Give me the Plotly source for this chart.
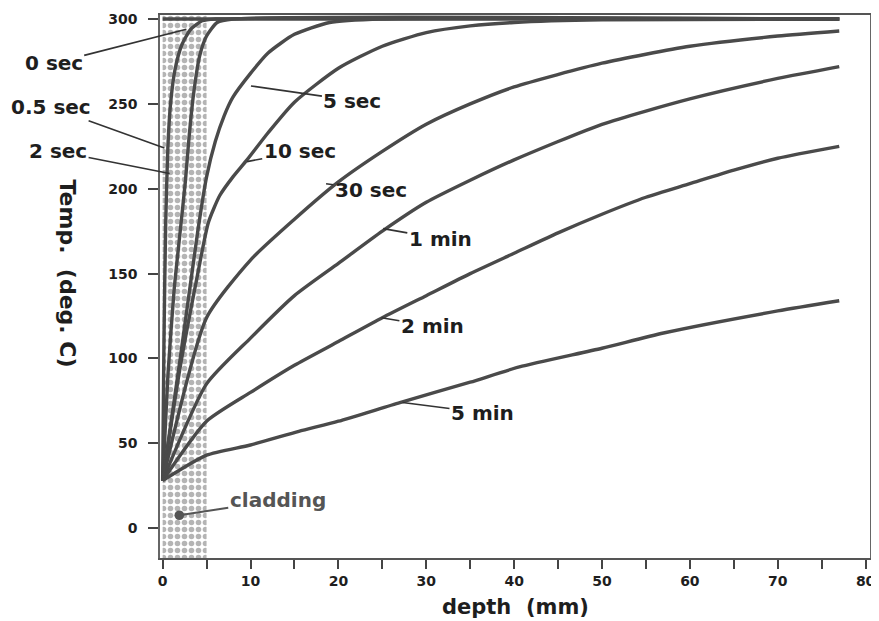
import numpy as np
import plotly.graph_objects as go

# ---- data (depth in mm, temperature in deg C) ----
depth_0s = [0, 77]
temp_0s = [300, 300]

depth_05s = [0, 0.15, 0.35, 0.6, 0.9, 1.4, 2.2, 3.2, 4.5, 6, 77]
temp_05s = [28, 110, 180, 225, 250, 270, 285, 294, 299, 300, 300]

depth_2s = [0, 0.6, 1.3, 2.0, 2.6, 3.0, 3.5, 4.2, 5.0, 6.2, 8, 77]
temp_2s = [28, 90, 140, 175, 205, 230, 255, 278, 290, 298, 300, 300]

depth_5s = [0, 2, 4, 5, 6, 7, 8, 10, 12, 15, 19, 25, 77]
temp_5s = [28, 100, 175, 207, 228, 243, 254, 268, 280, 291, 298, 300, 300]

depth_10s = [0, 2, 4, 5.2, 6.5, 8, 9.6, 12, 15, 20, 25, 30, 35, 40, 50, 77]
temp_10s = [28, 95, 150, 180, 196, 207, 217, 233, 251, 271, 284, 292, 296, 298, 299.5, 300]

depth_30s = [0, 5, 10, 15, 20, 25, 30, 35, 40, 50, 60, 70, 77]
temp_30s = [28, 124, 158, 182, 204, 222, 238, 250, 260, 274, 284, 290, 293]

depth_1m = [0, 5, 10, 15, 20, 25, 30, 35, 40, 50, 60, 70, 77]
temp_1m = [28, 85, 112, 137, 156, 175, 192, 205, 217, 238, 253, 265, 272]

depth_2m = [0, 5, 10, 15, 20, 25, 30, 35, 40, 45, 50, 55, 60, 65, 70, 77]
temp_2m = [28, 63, 80, 96, 110, 124, 137, 150, 162, 174, 185, 195, 203, 211, 218, 225]

depth_5m = [0, 5, 10, 15.5, 20, 27, 35, 40.6, 50, 57, 70, 77]
temp_5m = [28, 43, 49, 57, 63, 74, 86, 95, 106, 115, 128, 134]

cladding_x = [0, 5]
cladding_y = [-17.6, 302.4]

x_ticks = list(range(0, 81, 5))
x_tick_text = [str(v) if v % 10 == 0 else "" for v in x_ticks]
y_ticks = [0, 50, 100, 150, 200, 250, 300]

curves = [
    ("0 sec", depth_0s, temp_0s),
    ("0.5 sec", depth_05s, temp_05s),
    ("2 sec", depth_2s, temp_2s),
    ("5 sec", depth_5s, temp_5s),
    ("10 sec", depth_10s, temp_10s),
    ("30 sec", depth_30s, temp_30s),
    ("1 min", depth_1m, temp_1m),
    ("2 min", depth_2m, temp_2m),
    ("5 min", depth_5m, temp_5m),
]

LINE = "#4a4a4a"
TXT = "#1e1e1e"
FONT = "DejaVu Sans"

fig = go.Figure()

# cladding region (dotted)
fig.add_trace(go.Scatter(
    x=[cladding_x[0], cladding_x[1], cladding_x[1], cladding_x[0], cladding_x[0]],
    y=[cladding_y[0], cladding_y[0], cladding_y[1], cladding_y[1], cladding_y[0]],
    mode="lines", line=dict(width=0), fill="toself", fillcolor="rgba(0,0,0,0)",
    fillpattern=dict(shape=".", size=7, solidity=0.5, fgcolor="#6a6a6a", bgcolor="white"),
    hoverinfo="skip", showlegend=False,
))

for name, xs, ys in curves:
    fig.add_trace(go.Scatter(
        x=xs, y=ys, mode="lines", name=name,
        line=dict(color=LINE, width=3.4, shape="spline", smoothing=0.6),
        showlegend=False,
    ))

lab_font = dict(family=FONT, size=20, color=TXT, weight="bold")

# (text, text centre x, text centre y, arrow head x, arrow head y)
labels = [
    ("0 sec", -12.4, 274, 2.7, 294),
    ("0.5 sec", -12.7, 248, 0.2, 224),
    ("2 sec", -11.9, 222, 0.8, 209),
    ("5 sec", 21.6, 252, 10.05, 260.6),
    ("10 sec", 15.6, 222, 9.6, 216),
    ("30 sec", 23.7, 199, 18.6, 203),
    ("1 min", 31.6, 170.6, 25.1, 176.5),
    ("2 min", 30.7, 119, 24.9, 124),
    ("5 min", 36.4, 68, 27.3, 74),
]
for text, tx, ty, hx, hy in labels:
    fig.add_annotation(
        x=hx, y=hy, ax=tx, ay=ty, xref="x", yref="y", axref="x", ayref="y",
        text=text, showarrow=True, arrowhead=0, arrowwidth=1.6, arrowcolor="#333",
        standoff=0, font=lab_font, borderpad=1,
    )

fig.add_annotation(
    x=1.9, y=7.6, ax=13.1, ay=16.5, xref="x", yref="y", axref="x", ayref="y",
    text="cladding", showarrow=True, arrowhead=6, arrowsize=1.2, arrowwidth=2,
    arrowcolor="#555", standoff=0, font=dict(family=FONT, size=20, color="#555", weight="bold"),
)

fig.add_annotation(
    x=0.5, y=0, xref="paper", yref="paper", yshift=-35, xanchor="center", yanchor="top",
    text="depth  (mm)", showarrow=False, font=dict(family=FONT, size=21, color=TXT, weight="bold"),
)
fig.add_annotation(
    x=0, y=0.5, xref="paper", yref="paper", xshift=-93, yshift=13,
    xanchor="center", yanchor="middle",
    text="Temp.  (deg. C)", textangle=90, showarrow=False,
    font=dict(family=FONT, size=22, color=TXT, weight="bold"),
)

fig.update_xaxes(
    range=[-0.3, 80.5], tickvals=x_ticks, ticktext=x_tick_text,
    ticks="outside", ticklen=9, tickwidth=2, tickcolor="#444",
    showline=True, linecolor="#555", linewidth=2, mirror=True,
    showgrid=False, zeroline=False, ticklabeloverflow="allow",
    tickfont=dict(family=FONT, size=14, color=TXT, weight="bold"),
)
fig.update_yaxes(
    range=[-17.6, 302.4], tickvals=y_ticks,
    ticks="outside", ticklen=10, tickwidth=2, tickcolor="#444",
    showline=True, linecolor="#666", linewidth=1.5, mirror=True,
    showgrid=False, zeroline=False, ticklabelstandoff=8,
    tickfont=dict(family=FONT, size=14, color=TXT, weight="bold"),
)

fig.update_layout(
    width=871, height=613,
    margin=dict(l=152, r=3, t=6, b=63),
    plot_bgcolor="white", paper_bgcolor="white",
    showlegend=False,
)

fig.write_html("out.html")
